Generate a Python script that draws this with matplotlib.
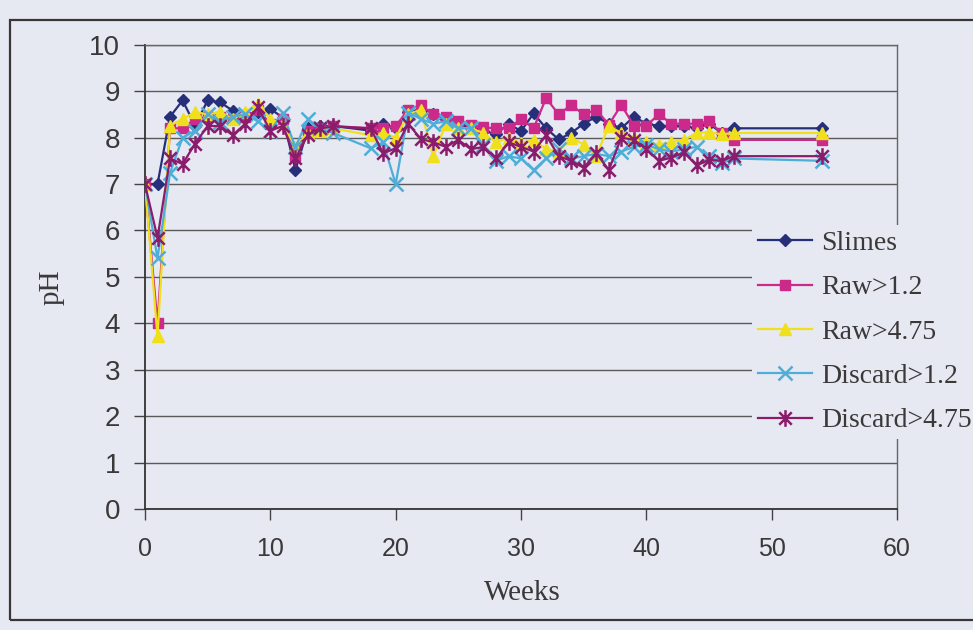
import matplotlib
matplotlib.use("Agg")
import matplotlib.pyplot as plt
from matplotlib.path import Path
from matplotlib.patches import Rectangle

weeks = [0, 1, 2, 3, 4, 5, 6, 7, 8, 9, 10, 11, 12, 13, 14, 15, 18, 19, 20, 21, 22, 23,
         24, 25, 26, 27, 28, 29, 30, 31, 32, 33, 34, 35, 36, 37, 38, 39, 40, 41, 42, 43,
         44, 45, 46, 47, 54]

slimes = [7.0, 7.0, 8.45, 8.8, 8.26, 8.8, 8.76, 8.58, 8.5, 8.55, 8.62, 8.43, 7.3, 8.2, 8.25,
          8.25, 8.15, 8.3, 8.2, 8.55, 8.6, 8.5, 8.4, 8.3, 8.2, 8.15, 8.07, 8.3, 8.14, 8.52,
          8.2, 7.96, 8.1, 8.3, 8.45, 8.3, 8.2, 8.45, 8.3, 8.25, 8.25, 8.25, 8.2, 8.3, 8.1,
          8.2, 8.2]
raw_12 = [7.0, 4.0, 8.2, 8.2, 8.4, 8.45, 8.45, 8.4, 8.45, 8.6, 8.3, 8.4, 7.6, 8.15, 8.2,
          8.25, 8.2, 8.2, 8.25, 8.6, 8.7, 8.5, 8.45, 8.35, 8.27, 8.22, 8.2, 8.2, 8.4, 8.2,
          8.85, 8.5, 8.7, 8.5, 8.6, 8.28, 8.7, 8.26, 8.26, 8.5, 8.3, 8.3, 8.3, 8.35, 8.1,
          7.95, 7.95]
raw_475 = [7.0, 3.72, 8.26, 8.4, 8.55, 8.5, 8.55, 8.4, 8.55, 8.73, 8.4, 8.3, 7.8, 8.1, 8.15,
           8.2, 8.05, 8.1, 8.0, 8.5, 8.6, 7.6, 8.3, 8.2, 8.2, 8.1, 7.9, 8.0, 7.88, 7.95,
           7.75, 7.7, 8.0, 7.85, 7.6, 8.25, 8.1, 8.0, 7.9, 7.85, 7.9, 7.95, 8.1, 8.12, 8.07,
           8.1, 8.1]
disc_12 = [7.0, 5.4, 7.24, 8.0, 8.15, 8.5, 8.33, 8.45, 8.5, 8.35, 8.15, 8.52, 7.8, 8.39, 8.2,
           8.1, 7.77, 7.9, 7.0, 8.54, 8.4, 8.3, 8.35, 8.2, 8.2, 7.83, 7.5, 7.6, 7.55, 7.3,
           7.55, 7.75, 7.55, 7.6, 7.65, 7.6, 7.7, 7.8, 7.85, 7.75, 7.7, 7.75, 7.8, 7.6, 7.45,
           7.55, 7.5]
disc_475 = [7.0, 5.84, 7.55, 7.43, 7.87, 8.25, 8.25, 8.05, 8.3, 8.65, 8.15, 8.25, 7.55, 8.06,
            8.2, 8.24, 8.2, 7.66, 7.77, 8.3, 7.97, 7.9, 7.8, 7.95, 7.75, 7.8, 7.55, 7.9, 7.8,
            7.7, 8.05, 7.6, 7.5, 7.35, 7.67, 7.3, 8.0, 7.95, 7.75, 7.5, 7.57, 7.68, 7.4, 7.52,
            7.5, 7.6, 7.6]

labels = ["Slimes", "Raw>1.2", "Raw>4.75", "Discard>1.2", "Discard>4.75"]
x_ticks = [0, 10, 20, 30, 40, 50, 60]
y_ticks = [0, 1, 2, 3, 4, 5, 6, 7, 8, 9, 10]

BG = "#e6e8f2"
TXT = "#3a3838"

star = Path([(0, -1), (0, 1), (-0.75, -0.75), (0.75, 0.75), (-0.75, 0.75), (0.75, -0.75)],
            [Path.MOVETO, Path.LINETO, Path.MOVETO, Path.LINETO, Path.MOVETO, Path.LINETO])

styles = [
    dict(color="#26307a", marker="D", markersize=6.5),
    dict(color="#cc2a8a", marker="s", markersize=7),
    dict(color="#f0e01c", marker="^", markersize=8.5),
    dict(color="#4eaed8", marker="x", markersize=10, markeredgewidth=1.8),
    dict(color="#8a1c6c", marker=star, markersize=12, markeredgewidth=1.8),
]

fig = plt.figure(figsize=(9.73, 6.3), dpi=100, facecolor=BG)
ax = fig.add_axes([0.149, 0.192, 0.773, 0.737], facecolor=BG)

series = [slimes, raw_12, raw_475, disc_12, disc_475]
for vals, lab, st in zip(series, labels, styles):
    ax.plot(weeks, vals, label=lab, linewidth=1.6, zorder=3, **st)

ax.set_xlim(0, 60)
ax.set_ylim(0, 10)
ax.set_xticks(x_ticks)
ax.set_yticks(y_ticks)
ax.yaxis.grid(True, color="#5a5a5a", linewidth=1.0)
ax.set_axisbelow(True)
ax.tick_params(axis="both", direction="out", length=8, width=1.0, color="#444444",
               labelcolor=TXT, pad=10)
ax.tick_params(axis="y", labelsize=20)
ax.tick_params(axis="x", labelsize=18, pad=12)
for lab in ax.get_xticklabels() + ax.get_yticklabels():
    lab.set_family("Liberation Sans")
for side in ["left", "bottom"]:
    ax.spines[side].set_color("#333333")
    ax.spines[side].set_linewidth(1.3)
for side in ["top", "right"]:
    ax.spines[side].set_color("#666666")
    ax.spines[side].set_linewidth(1.0)

fig.text(52 / 973, 1 - 287 / 630, "pH", rotation=90, ha="center", va="center",
         fontsize=21, family="Liberation Serif", color=TXT)
fig.text(522 / 973, 1 - 593 / 630, "Weeks", ha="center", va="center",
         fontsize=21, family="Liberation Serif", color=TXT)

leg = ax.legend(loc="upper left", bbox_to_anchor=(752 / 973, 1 - 225 / 630),
                bbox_transform=fig.transFigure, frameon=True, facecolor=BG,
                edgecolor="none", framealpha=1.0, fancybox=False,
                prop={"family": "Liberation Serif", "size": 20},
                handlelength=1.95, handletextpad=0.35, labelspacing=0.68,
                borderpad=0.2, borderaxespad=0)
for t in leg.get_texts():
    t.set_color(TXT)

fig.patches.append(Rectangle((10 / 973, 1 - 620 / 630), 1.0, (620 - 20) / 630,
                             transform=fig.transFigure, fill=False,
                             edgecolor="#3a3636", linewidth=1.6, clip_on=False))

fig.savefig("out.png", dpi=100, facecolor=BG)
